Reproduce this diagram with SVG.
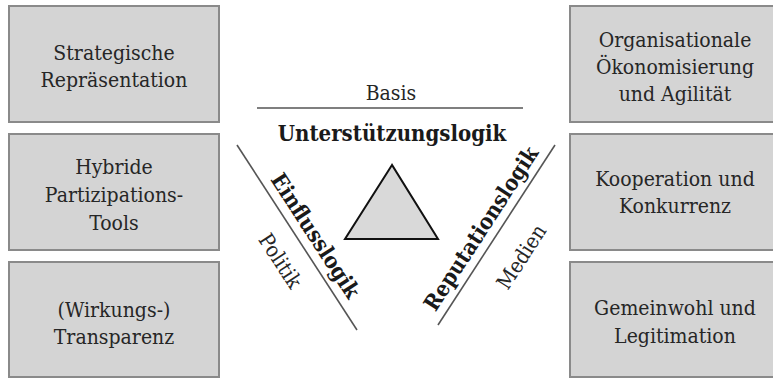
<svg xmlns="http://www.w3.org/2000/svg" width="773" height="379" viewBox="0 0 773 379">
<style>
.box{fill:#d4d4d4;stroke:#8a8a8a;stroke-width:2}
.t{font-family:"DejaVu Serif Condensed","DejaVu Serif",serif;font-stretch:condensed;font-size:21px;fill:#262626;text-anchor:middle}
.b{font-family:"DejaVu Serif Condensed","DejaVu Serif",serif;font-stretch:condensed;font-size:22px;font-weight:bold;fill:#1a1a1a;text-anchor:middle}
.ln{stroke:#555;stroke-width:1.6;fill:none}
</style>
<rect width="773" height="379" fill="#fff"/>
<g id="box-strategische">
<rect class="box" x="9" y="6" width="210" height="116"/>
<text class="t" x="114" y="60">Strategische</text>
<text class="t" x="114" y="87">Repräsentation</text>
</g>
<g id="box-hybride">
<rect class="box" x="9" y="134" width="210" height="116"/>
<text class="t" x="114" y="174">Hybride</text>
<text class="t" x="114" y="202">Partizipations-</text>
<text class="t" x="114" y="230">Tools</text>
</g>
<g id="box-transparenz">
<rect class="box" x="9" y="262" width="210" height="115"/>
<text class="t" x="114" y="317">(Wirkungs-)</text>
<text class="t" x="114" y="344">Transparenz</text>
</g>
<g id="box-oekonomisierung">
<rect class="box" x="570" y="6" width="212" height="116"/>
<text class="t" x="675" y="47">Organisationale</text>
<text class="t" x="675" y="74">Ökonomisierung</text>
<text class="t" x="675" y="101">und Agilität</text>
</g>
<g id="box-kooperation">
<rect class="box" x="570" y="134" width="212" height="116"/>
<text class="t" x="675" y="186">Kooperation und</text>
<text class="t" x="675" y="213">Konkurrenz</text>
</g>
<g id="box-gemeinwohl">
<rect class="box" x="570" y="262" width="212" height="115"/>
<text class="t" x="675" y="315">Gemeinwohl und</text>
<text class="t" x="675" y="343">Legitimation</text>
</g>
<g id="connectors">
<line class="ln" x1="257" y1="108" x2="523" y2="108"/>
<line class="ln" x1="237" y1="145" x2="357" y2="330"/>
<line class="ln" x1="555" y1="145" x2="438" y2="325"/>
</g>
<g id="center">
<polygon points="392,165 345,239 438,239" fill="#d9d9d9" stroke="#111" stroke-width="2"/>
<text class="t" x="391" y="100">Basis</text>
<text class="b" x="392" y="141">Unterstützungslogik</text>
<text class="b" transform="translate(301.7,244.8) rotate(57)" x="0" y="-9">Einflusslogik</text>
<text class="t" transform="translate(302.7,246.3) rotate(57)" x="0" y="34">Politik</text>
<text class="b" transform="translate(494.9,237.5) rotate(-57)" x="0" y="-9">Reputationslogik</text>
<text class="t" transform="translate(493.9,239) rotate(-57)" x="0" y="40">Medien</text>
</g>
</svg>
